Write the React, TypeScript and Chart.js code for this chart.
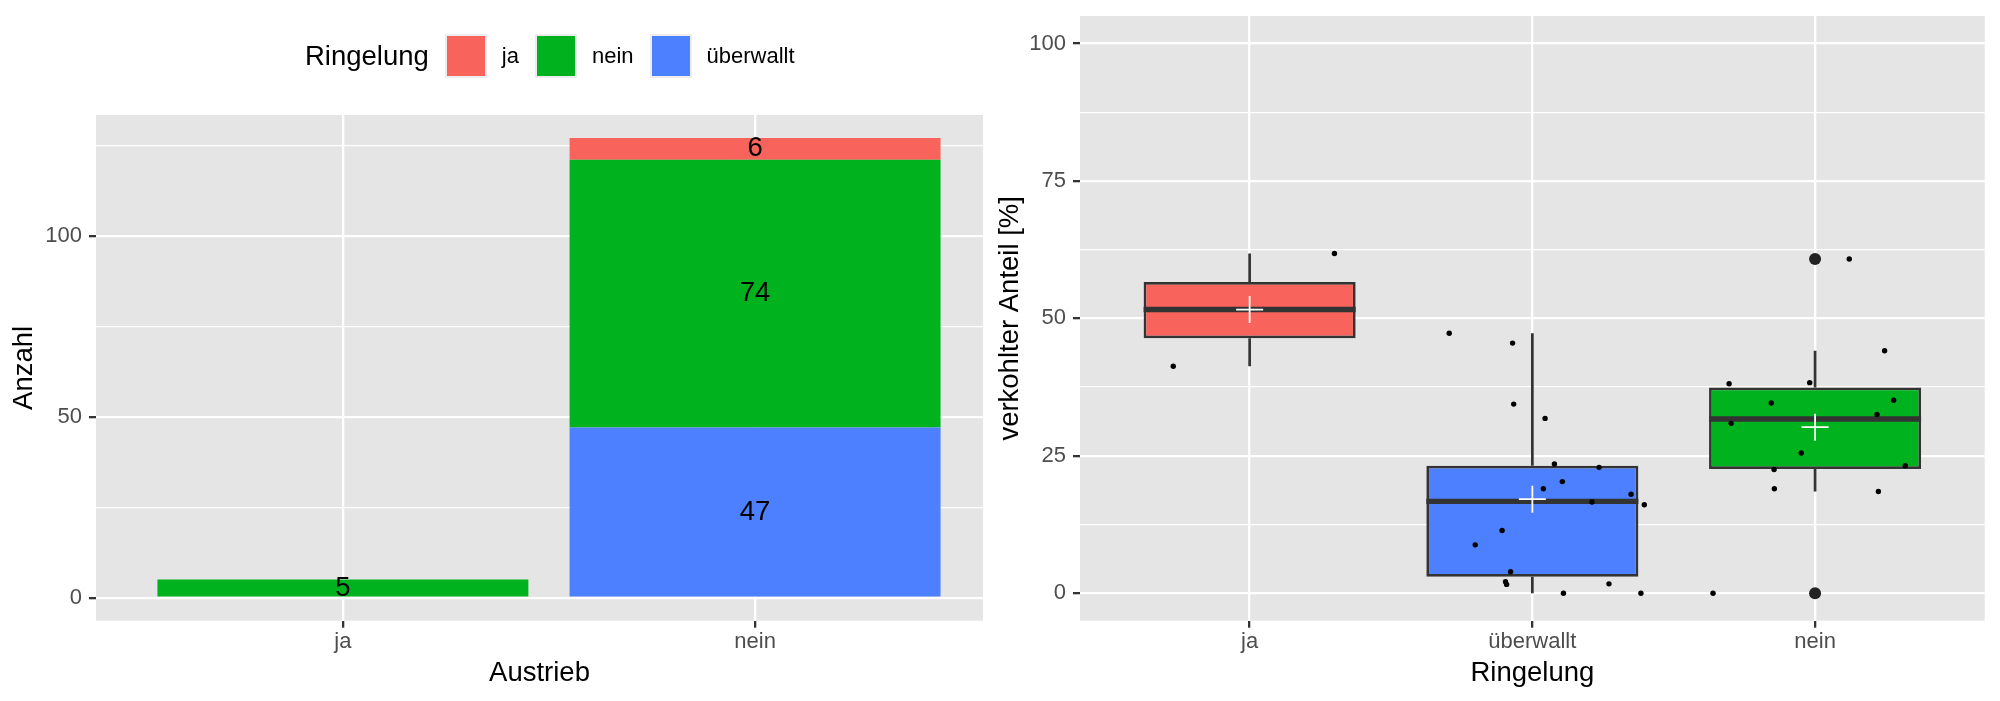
import React, { useEffect, useRef } from "react";
import { Chart, registerables } from "chart.js";

Chart.register(...registerables);

const FONT = "'Liberation Sans', Arial, Helvetica, sans-serif";

// ---------- data: left panel (stacked counts) ----------
const austriebCategories = ["ja", "nein"];
const ringelungLevels = ["ja", "nein", "überwallt"];
const countRingelungJa = [0, 6];
const countRingelungNein = [5, 74];
const countRingelungUeberwallt = [0, 47];
const leftYTicks = [0, 25, 50, 75, 100, 125];
const leftYLabelTicks = [0, 50, 100];

// ---------- data: right panel (boxplot) ----------
const boxCategories = ["ja", "überwallt", "nein"];
const boxWhiskerLow = [41.3, 0, 18.5];
const boxQ1 = [46.4, 3.0, 22.6];
const boxMedian = [51.6, 16.7, 31.7];
const boxQ3 = [56.6, 23.2, 37.4];
const boxWhiskerHigh = [61.8, 47.3, 44.1];
const boxMean = [51.6, 17.1, 30.2];
const outlierX = [3, 3];
const outlierY = [60.8, 0];

const jaPointsX = [0.73, 1.3];
const jaPointsY = [41.3, 61.8];
const ueberwalltPointsX = [
  1.706, 1.93, 1.934, 2.045, 2.078, 2.236, 2.106, 2.039, 2.349, 2.211, 2.396,
  1.893, 1.798, 1.923, 1.905, 1.909, 2.271, 2.11, 2.384,
];
const ueberwalltPointsY = [
  47.3, 45.5, 34.4, 31.8, 23.5, 22.9, 20.3, 19.0, 18.0, 16.6, 16.1, 11.4, 8.8,
  3.9, 2.1, 1.6, 1.7, 0, 0,
];
const neinPointsX = [
  3.121, 3.246, 2.696, 2.981, 2.845, 3.278, 3.219, 2.703, 2.951, 3.319, 2.855,
  2.856, 3.224, 2.639,
];
const neinPointsY = [
  60.8, 44.1, 38.1, 38.3, 34.6, 35.1, 32.5, 30.9, 25.5, 23.2, 22.5, 19.0, 18.5,
  0,
];
const rightYTicks = [0, 12.5, 25, 37.5, 50, 62.5, 75, 87.5, 100];
const rightYLabelTicks = [0, 25, 50, 75, 100];

// ---------- styles ----------
const RED = "#F8635B";
const GREEN = "#00B31E";
const BLUE = "#4D80FF";
const levelColors: Record<string, string> = { ja: RED, nein: GREEN, "überwallt": BLUE };
const PANEL_BG = "#E5E5E5";
const TICK_COLOR = "#4D4D4D";
const DARK = "#333333";
const TITLE_SIZE = 27.5;
const TICK_SIZE = 22;

const panelBg = {
  id: "panelBg",
  beforeDraw(chart: any) {
    const { ctx, chartArea: a } = chart;
    ctx.save();
    ctx.fillStyle = PANEL_BG;
    ctx.fillRect(a.left, a.top, a.right - a.left, a.bottom - a.top);
    ctx.restore();
  },
};

const barLabels = {
  id: "barLabels",
  afterDatasetsDraw(chart: any) {
    const ctx = chart.ctx;
    ctx.save();
    ctx.font = `${TITLE_SIZE}px ${FONT}`;
    ctx.fillStyle = "#000";
    ctx.textAlign = "center";
    ctx.textBaseline = "middle";
    chart.data.datasets.forEach((ds: any, di: number) => {
      const meta = chart.getDatasetMeta(di);
      meta.data.forEach((el: any, i: number) => {
        const v = ds.data[i].y;
        if (!v) return;
        const p = el.getProps(["x", "y", "base"], true);
        ctx.fillText(String(v), p.x, (p.y + p.base) / 2);
      });
    });
    ctx.restore();
  },
};

const boxParts = {
  id: "boxParts",
  afterDatasetDraw(chart: any, args: any) {
    if (args.index !== 0) return;
    const { ctx } = chart;
    const xs = chart.scales.x;
    const ys = chart.scales.y;
    const meta = chart.getDatasetMeta(0);
    ctx.save();
    ctx.strokeStyle = DARK;
    ctx.lineCap = "butt";
    boxCategories.forEach((_, i) => {
      const cx = xs.getPixelForValue(i + 1);
      ctx.lineWidth = 2.7;
      ctx.beginPath();
      ctx.moveTo(cx, ys.getPixelForValue(boxQ3[i]));
      ctx.lineTo(cx, ys.getPixelForValue(boxWhiskerHigh[i]));
      ctx.moveTo(cx, ys.getPixelForValue(boxQ1[i]));
      ctx.lineTo(cx, ys.getPixelForValue(boxWhiskerLow[i]));
      ctx.stroke();
      const el = meta.data[i];
      const p = el.getProps(["x", "width"], true);
      const my = ys.getPixelForValue(boxMedian[i]);
      ctx.lineWidth = 5.4;
      ctx.beginPath();
      ctx.moveTo(p.x - p.width / 2, my);
      ctx.lineTo(p.x + p.width / 2, my);
      ctx.stroke();
    });
    ctx.restore();
  },
};

function axisGrid(isMajor: (v: number) => boolean) {
  return {
    offset: false,
    color: "#FFFFFF",
    lineWidth: (c: any) => (c.tick && isMajor(c.tick.value) ? 2.3 : 1.2),
    tickColor: (c: any) => (c.tick && isMajor(c.tick.value) ? DARK : "rgba(0,0,0,0)"),
    tickWidth: 2.3,
    tickLength: 7,
    drawTicks: true,
  };
}

function makeLeftConfig(): any {
  const toData = (arr: number[]) => arr.map((v, i) => ({ x: i + 1, y: v }));
  return {
    type: "bar",
    data: {
      datasets: [
        { label: "überwallt", data: toData(countRingelungUeberwallt), backgroundColor: BLUE },
        { label: "nein", data: toData(countRingelungNein), backgroundColor: GREEN },
        { label: "ja", data: toData(countRingelungJa), backgroundColor: RED },
      ],
    },
    options: {
      responsive: false,
      animation: false,
      events: [],
      layout: { padding: { top: 115, right: 7, bottom: 0, left: 0 } },
      plugins: { legend: { display: false }, tooltip: { enabled: false } },
      datasets: { bar: { barPercentage: 0.9, categoryPercentage: 1, borderWidth: 0 } },
      scales: {
        x: {
          type: "linear",
          stacked: true,
          offset: false,
          min: 0.401,
          max: 2.553,
          bounds: "data",
          afterBuildTicks: (s: any) => {
            s.ticks = austriebCategories.map((_, i) => ({ value: i + 1 }));
          },
          afterFit: (s: any) => {
            s.height = 80.3;
            s.paddingLeft = 0;
            s.paddingRight = 0;
          },
          ticks: {
            callback: (v: any) => austriebCategories[Math.round(v) - 1],
            color: TICK_COLOR,
            font: { family: FONT, size: TICK_SIZE },
            padding: 1,
            autoSkip: false,
            maxRotation: 0,
          },
          grid: axisGrid(() => true),
          border: { display: false },
          title: {
            display: true,
            text: "Austrieb",
            color: "#000",
            font: { family: FONT, size: TITLE_SIZE, lineHeight: 1.2 },
            padding: { top: 0, bottom: 11.5 },
          },
        },
        y: {
          type: "linear",
          stacked: true,
          min: -6.35,
          max: 133.35,
          bounds: "data",
          afterBuildTicks: (s: any) => {
            s.ticks = leftYTicks.map((v) => ({ value: v }));
          },
          afterFit: (s: any) => {
            s.width = 96;
            s.paddingTop = 0;
            s.paddingBottom = 0;
          },
          ticks: {
            callback: (v: any) => (leftYLabelTicks.includes(v) ? String(v) : ""),
            color: TICK_COLOR,
            font: { family: FONT, size: TICK_SIZE },
            padding: 7,
            autoSkip: false,
          },
          grid: axisGrid((v) => leftYLabelTicks.includes(v)),
          border: { display: false },
          title: {
            display: true,
            text: "Anzahl",
            color: "#000",
            font: { family: FONT, size: TITLE_SIZE, lineHeight: 1.2 },
            padding: { top: 7.5, bottom: 0 },
          },
        },
      },
    },
    plugins: [panelBg, barLabels],
  };
}

function makeRightConfig(): any {
  const pts = (xs: number[], ys: number[]) => xs.map((x, i) => ({ x, y: ys[i] }));
  return {
    type: "bar",
    data: {
      datasets: [
        {
          type: "bar",
          label: "box",
          data: boxCategories.map((_, i) => ({ x: i + 1, y: [boxQ1[i], boxQ3[i]] })),
          backgroundColor: boxCategories.map((c) => levelColors[c]),
          borderColor: DARK,
          borderWidth: 2.7,
          borderSkipped: false,
          barPercentage: 0.75,
          categoryPercentage: 1,
          order: 4,
        },
        {
          type: "scatter",
          label: "outliers",
          data: pts(outlierX, outlierY),
          pointRadius: 6,
          pointBackgroundColor: "#222222",
          pointBorderWidth: 0,
          order: 3,
        },
        {
          type: "scatter",
          label: "points",
          data: [
            ...pts(jaPointsX, jaPointsY),
            ...pts(ueberwalltPointsX, ueberwalltPointsY),
            ...pts(neinPointsX, neinPointsY),
          ],
          pointRadius: 2.7,
          pointBackgroundColor: "#000000",
          pointBorderWidth: 0,
          order: 2,
        },
        {
          type: "scatter",
          label: "mean",
          data: boxCategories.map((_, i) => ({ x: i + 1, y: boxMean[i] })),
          pointStyle: "cross",
          pointRadius: 13.5,
          pointBorderColor: "#FFFFFF",
          pointBorderWidth: 1.8,
          order: 1,
        },
      ],
    },
    options: {
      responsive: false,
      animation: false,
      events: [],
      layout: { padding: { top: 16, right: 15, bottom: 0, left: 0 } },
      plugins: { legend: { display: false }, tooltip: { enabled: false } },
      scales: {
        x: {
          type: "linear",
          offset: false,
          min: 0.4,
          max: 3.6,
          bounds: "data",
          afterBuildTicks: (s: any) => {
            s.ticks = boxCategories.map((_, i) => ({ value: i + 1 }));
          },
          afterFit: (s: any) => {
            s.height = 80.3;
            s.paddingLeft = 0;
            s.paddingRight = 0;
          },
          ticks: {
            callback: (v: any) => boxCategories[Math.round(v) - 1],
            color: TICK_COLOR,
            font: { family: FONT, size: TICK_SIZE },
            padding: 1,
            autoSkip: false,
            maxRotation: 0,
          },
          grid: axisGrid(() => true),
          border: { display: false },
          title: {
            display: true,
            text: "Ringelung",
            color: "#000",
            font: { family: FONT, size: TITLE_SIZE, lineHeight: 1.2 },
            padding: { top: 0, bottom: 11.5 },
          },
        },
        y: {
          type: "linear",
          min: -5,
          max: 105,
          bounds: "data",
          afterBuildTicks: (s: any) => {
            s.ticks = rightYTicks.map((v) => ({ value: v }));
          },
          afterFit: (s: any) => {
            s.width = 90;
            s.paddingTop = 0;
            s.paddingBottom = 0;
          },
          ticks: {
            callback: (v: any) => (rightYLabelTicks.includes(v) ? String(v) : ""),
            color: TICK_COLOR,
            font: { family: FONT, size: TICK_SIZE },
            padding: 7,
            autoSkip: false,
          },
          grid: axisGrid((v) => rightYLabelTicks.includes(v)),
          border: { display: false },
          title: {
            display: true,
            text: "verkohlter Anteil [%]",
            color: "#000",
            font: { family: FONT, size: TITLE_SIZE, lineHeight: 1.2 },
            padding: { top: 3.5, bottom: 0 },
          },
        },
      },
    },
    plugins: [panelBg, boxParts],
  };
}

export default function App() {
  const leftRef = useRef<HTMLCanvasElement | null>(null);
  const rightRef = useRef<HTMLCanvasElement | null>(null);

  useEffect(() => {
    const left = new Chart(leftRef.current as HTMLCanvasElement, makeLeftConfig());
    const right = new Chart(rightRef.current as HTMLCanvasElement, makeRightConfig());
    return () => {
      left.destroy();
      right.destroy();
    };
  }, []);

  return (
    <div
      style={{
        position: "absolute",
        left: 0,
        top: 0,
        width: 2000,
        height: 701,
        background: "#FFFFFF",
        fontFamily: FONT,
        overflow: "hidden",
      }}
    >
      <canvas
        ref={leftRef}
        width={990}
        height={701}
        style={{ position: "absolute", left: 0, top: 0, width: 990, height: 701 }}
      />
      <canvas
        ref={rightRef}
        width={1010}
        height={701}
        style={{ position: "absolute", left: 990, top: 0, width: 1010, height: 701 }}
      />
      <div
        style={{
          position: "absolute",
          left: 305,
          top: 34,
          height: 44,
          display: "flex",
          alignItems: "center",
          whiteSpace: "nowrap",
        }}
      >
        <span style={{ fontSize: TITLE_SIZE, lineHeight: 1, color: "#000", marginRight: 16 }}>
          Ringelung
        </span>
        {ringelungLevels.map((lv) => (
          <React.Fragment key={lv}>
            <span
              style={{
                display: "inline-block",
                boxSizing: "border-box",
                width: 42,
                height: 44,
                background: levelColors[lv],
                border: "2px solid #EDEDED",
                marginRight: 15,
              }}
            />
            <span style={{ fontSize: TICK_SIZE, lineHeight: 1, color: "#000", marginRight: 16 }}>
              {lv}
            </span>
          </React.Fragment>
        ))}
      </div>
    </div>
  );
}
